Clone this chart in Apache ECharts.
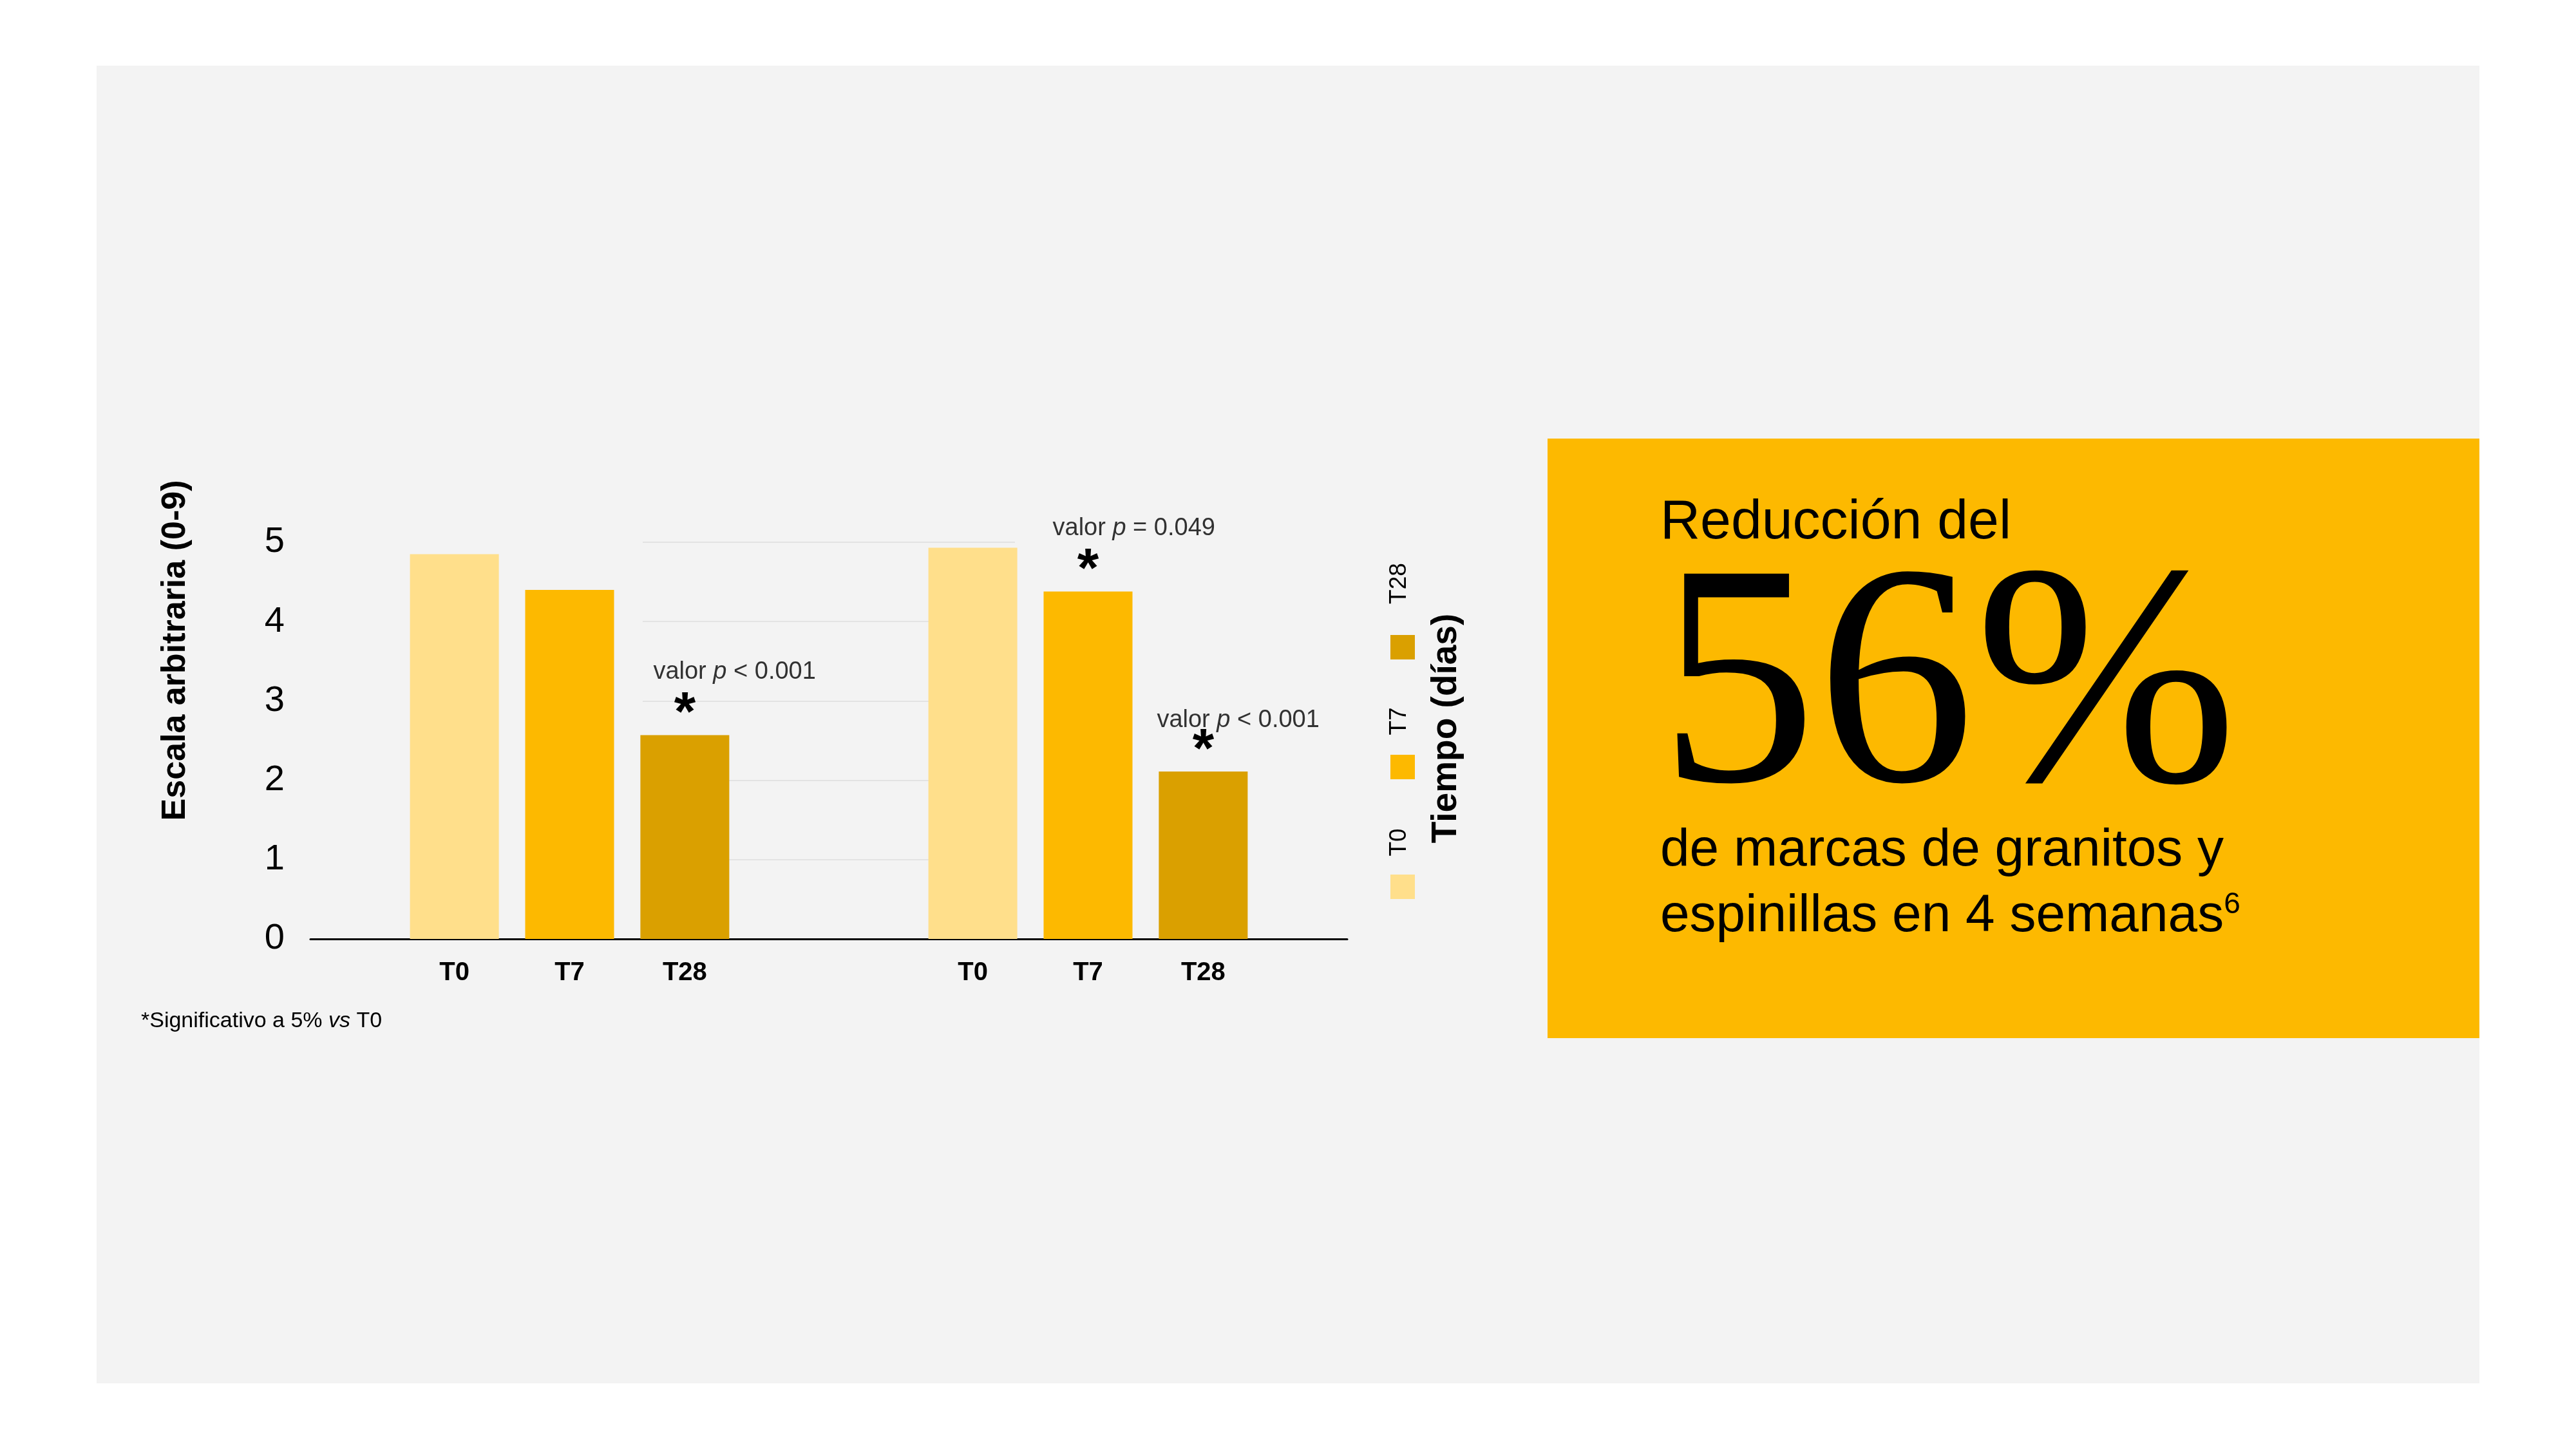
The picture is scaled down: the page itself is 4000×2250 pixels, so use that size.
<!DOCTYPE html>
<html>
<head>
<meta charset="utf-8">
<script src="https://cdn.jsdelivr.net/npm/echarts@6/dist/echarts.min.js"></script>
<style>
  html, body { margin: 0; padding: 0; background: #ffffff; }
  #chart { width: 4000px; height: 2250px; }
</style>
</head>
<body>
<div id="chart"></div>
<script>
// datos
const times = ['T0', 'T7', 'T28'];
const groupA = [4.85, 4.40, 2.57];
const groupB = [4.93, 4.38, 2.11];
const pvalA = ['', '', 'valor p < 0.001'];
const pvalB = ['', 'valor p = 0.049', 'valor p < 0.001'];
const yMax = 5;

const colors = ['#FFDF8B', '#FDB900', '#DAA000'];
const font = '"Liberation Sans", Arial, sans-serif';

// eje de categorias con 18 huecos, cada grupo ocupa un hueco de cada dos
const SLOTS = 18;
const groupStart = [2, 11];
const groups = [groupA, groupB];
const pvals = [pvalA, pvalB];
// desplazamiento de cada texto de valor p respecto al centro/techo de la barra
const pOffsets = [[[0, 0], [0, 0], [-49, 0]], [[0, 0], [-55, 0], [-72, 18]]];
const cats = new Array(SLOTS).fill('');
groupStart.forEach(s => times.forEach((t, i) => { cats[s + i * 2] = t; }));

const barSeries = times.map((t, i) => {
    const data = new Array(SLOTS).fill(null);
    groups.forEach((g, gi) => {
        data[groupStart[gi] + i * 2] = {
            value: g[i],
            label: {show: !!pvals[gi][i]}
        };
    });
    return {
        name: t,
        type: 'bar',
        barWidth: 138,
        barGap: '-100%',
        itemStyle: {color: colors[i]},
        label: {
            show: false,
            position: 'top',
            distance: -12,
            formatter: '*',
            color: '#000',
            fontFamily: font,
            fontWeight: 'bold',
            fontSize: 86
        },
        data: data
    };
});

// textos de valor p encima de las barras significativas
const pData = [];
groups.forEach((g, gi) => {
    times.forEach((t, i) => {
        if (pvals[gi][i]) {
            pData.push({
                value: [groupStart[gi] + i * 2, g[i]],
                name: pvals[gi][i],
                label: {offset: pOffsets[gi][i]}
            });
        }
    });
});

const pSeries = {
    name: 'p',
    type: 'scatter',
    symbolSize: 1,
    itemStyle: {color: 'transparent'},
    silent: true,
    label: {
        show: true,
        position: 'top',
        distance: 78,
        align: 'left',
        formatter: function (p) {
            const parts = p.name.split(' p ');
            return '{n|' + parts[0] + ' }{i|p}{n| ' + parts[1] + '}';
        },
        rich: {
            n: {fontFamily: font, fontSize: 38, color: '#000'},
            i: {fontFamily: font, fontSize: 38, color: '#000', fontStyle: 'italic'}
        }
    },
    data: pData
};

// lineas de guia tenues (solo visibles en el tramo central)
const guideSeries = {
    type: 'line',
    xAxisIndex: 1,
    yAxisIndex: 1,
    data: [],
    silent: true
};

const chart = echarts.init(document.getElementById('chart'));

const option = {
    backgroundColor: '#ffffff',
    animation: false,
    legend: {
        orient: 'vertical',
        left: 2159,
        top: 986,
        padding: 0,
        itemWidth: 38,
        itemHeight: 38,
        itemGap: 148,
        icon: 'rect',
        data: ['T28', 'T7', 'T0'],
        formatter: function () { return ''; },
        textStyle: {fontSize: 10}
    },
    grid: [
        {left: 482, top: 842, width: 1610, height: 616},
        {left: 998, top: 842, width: 578, height: 616}
    ],
    xAxis: [
        {
            type: 'category',
            gridIndex: 0,
            data: cats,
            axisLine: {show: true, lineStyle: {color: '#000', width: 3}},
            axisTick: {show: false},
            axisLabel: {
                interval: 0,
                margin: 33,
                color: '#000',
                fontFamily: font,
                fontWeight: 'bold',
                fontSize: 40
            },
            splitLine: {show: false}
        },
        {type: 'value', gridIndex: 1, min: 0, max: 1, show: false}
    ],
    yAxis: [
        {
            type: 'value',
            gridIndex: 0,
            min: 0,
            max: yMax,
            interval: 1,
            axisLine: {show: false},
            axisTick: {show: false},
            splitLine: {show: false},
            axisLabel: {
                margin: 40,
                color: '#000',
                fontFamily: font,
                fontSize: 56
            }
        },
        {
            type: 'value',
            gridIndex: 1,
            min: 0,
            max: yMax,
            interval: 1,
            axisLine: {show: false},
            axisTick: {show: false},
            axisLabel: {show: false},
            splitLine: {show: true, lineStyle: {color: '#E3E3E3', width: 2}}
        }
    ],
    graphic: [
        {type: 'rect', z: -1, shape: {x: 150, y: 102, width: 3700, height: 2046}, style: {fill: '#F3F3F3'}},
        {type: 'rect', z: -1, shape: {x: 2403, y: 681, width: 1447, height: 931}, style: {fill: '#FDB900'}},
        {
            type: 'text', x: 273, y: 1010, rotation: Math.PI / 2,
            style: {text: 'Escala arbitraria (0-9)', fontFamily: font, fontWeight: 'bold', fontSize: 52,
                fill: '#000', align: 'center', verticalAlign: 'middle'}
        },
        {
            type: 'text', x: 2246, y: 1131, rotation: Math.PI / 2,
            style: {text: 'Tiempo (días)', fontFamily: font, fontWeight: 'bold', fontSize: 55,
                fill: '#000', align: 'center', verticalAlign: 'middle'}
        },
        {
            type: 'text', x: 2173, y: 906, rotation: Math.PI / 2,
            style: {text: 'T28', fontFamily: font, fontSize: 37, fill: '#000', align: 'center', verticalAlign: 'middle'}
        },
        {
            type: 'text', x: 2173, y: 1120, rotation: Math.PI / 2,
            style: {text: 'T7', fontFamily: font, fontSize: 37, fill: '#000', align: 'center', verticalAlign: 'middle'}
        },
        {
            type: 'text', x: 2173, y: 1308, rotation: Math.PI / 2,
            style: {text: 'T0', fontFamily: font, fontSize: 37, fill: '#000', align: 'center', verticalAlign: 'middle'}
        },
        {
            type: 'text', x: 219, y: 1586,
            style: {
                text: '{n|*Significativo a 5% }{i|vs}{n| T0}',
                verticalAlign: 'middle',
                rich: {
                    n: {fontFamily: font, fontSize: 34, fill: '#000'},
                    i: {fontFamily: font, fontSize: 34, fill: '#000', fontStyle: 'italic'}
                }
            }
        },
        {
            type: 'text', x: 2578, y: 812,
            style: {text: 'Reducción del', fontFamily: font, fontSize: 86, fill: '#000', verticalAlign: 'middle'}
        },
        {
            type: 'text', x: 2576, y: 1083,
            style: {text: '56%', fontFamily: '"Liberation Serif", "DejaVu Serif", serif',
                fontSize: 490, fill: '#000', verticalAlign: 'middle'}
        },
        {
            type: 'text', x: 2578, y: 1321,
            style: {text: 'de marcas de granitos y', fontFamily: font, fontSize: 82, fill: '#000', verticalAlign: 'middle'}
        },
        {
            type: 'text', x: 2578, y: 1423,
            style: {
                text: '{n|espinillas en 4 semanas}{s|6}',
                verticalAlign: 'middle',
                rich: {
                    n: {fontFamily: font, fontSize: 82, fill: '#000'},
                    s: {fontFamily: font, fontSize: 46, fill: '#000', verticalAlign: 'top'}
                }
            }
        }
    ],
    series: barSeries.concat([pSeries, guideSeries])
};

chart.setOption(option);
</script>
</body>
</html>
